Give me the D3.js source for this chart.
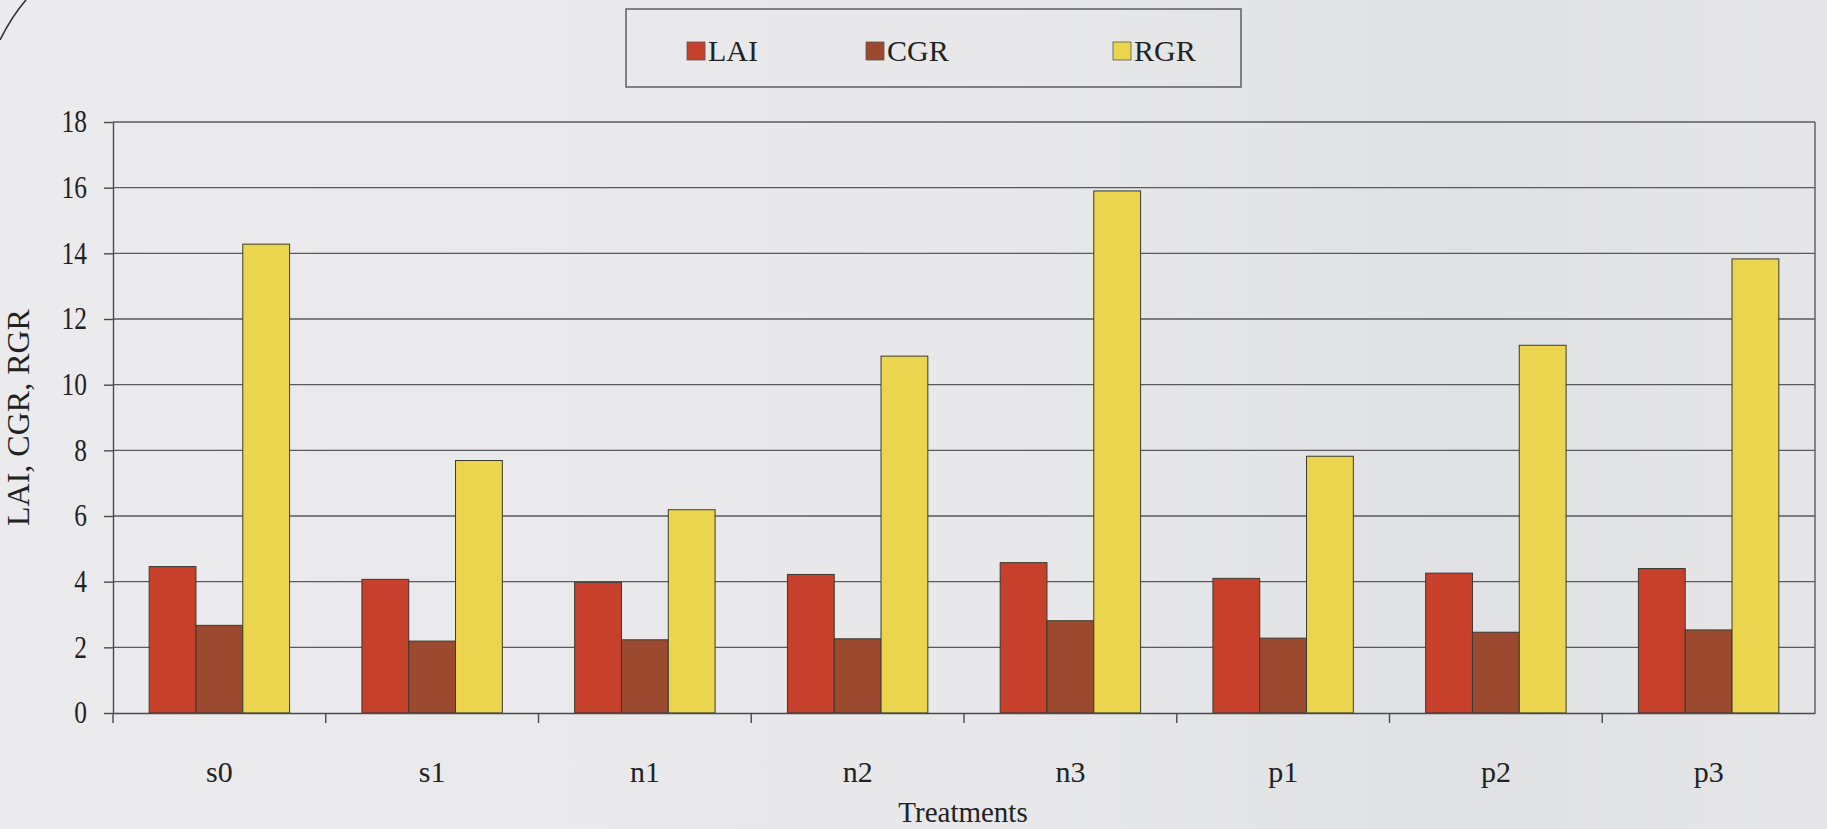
<!DOCTYPE html>
<html>
<head>
<meta charset="utf-8">
<script src="https://cdn.jsdelivr.net/npm/d3@7"></script>
<style>
  html, body { margin: 0; padding: 0; background: #e9e9eb; }
  svg { display: block; }
  text { font-family: "Liberation Serif", "Times New Roman", serif; fill: #222; }
</style>
</head>
<body>
<svg id="chart" width="1827" height="829"></svg>
<script>
// Treatments along the x axis
const categories = ["s0", "s1", "n1", "n2", "n3", "p1", "p2", "p3"];
// Series names and values per treatment
const seriesNames = ["LAI", "CGR", "RGR"];
const laiValues = [4.46, 4.07, 3.98, 4.22, 4.58, 4.10, 4.26, 4.40];
const cgrValues = [2.67, 2.19, 2.23, 2.26, 2.81, 2.28, 2.46, 2.53];
const rgrValues = [14.28, 7.69, 6.19, 10.87, 15.90, 7.82, 11.20, 13.83];
// Y axis ticks
const yTicks = [0, 2, 4, 6, 8, 10, 12, 14, 16, 18];

const seriesValues = { LAI: laiValues, CGR: cgrValues, RGR: rgrValues };
const colors = { LAI: "#c7402c", CGR: "#9b4a2f", RGR: "#ecd54e" };

const svg = d3.select("#chart");
const W = 1827, H = 829;
const plot = { left: 113, right: 1815, top: 122, bottom: 713 };

// soft paper tone, slightly darker toward the right
const defs = svg.append("defs");
const bg = defs.append("linearGradient").attr("id", "paper").attr("x1", "0").attr("x2", "1").attr("y1", "0").attr("y2", "0");
bg.append("stop").attr("offset", "0").attr("stop-color", "#ebebed");
bg.append("stop").attr("offset", "0.55").attr("stop-color", "#e8e8ea");
bg.append("stop").attr("offset", "0.8").attr("stop-color", "#e0e1e4");
bg.append("stop").attr("offset", "1").attr("stop-color", "#e6e6e8");
svg.append("rect").attr("width", W).attr("height", H).attr("fill", "url(#paper)");

// page corner curve
svg.append("path")
  .attr("d", "M26,0 Q12,16 0,40")
  .attr("fill", "none").attr("stroke", "#333").attr("stroke-width", 1.6);

const x0 = d3.scaleBand().domain(categories).range([plot.left, plot.right]).padding(0);
const bw = x0.bandwidth();
const x1 = d3.scaleBand().domain(seriesNames).range([bw * 0.17, bw * 0.83]).padding(0);
const y = d3.scaleLinear().domain([0, 18]).range([plot.bottom, plot.top]);

// gridlines
svg.append("g")
  .selectAll("line")
  .data(yTicks.filter(d => d > 0))
  .join("line")
  .attr("x1", plot.left).attr("x2", plot.right)
  .attr("y1", d => y(d)).attr("y2", d => y(d))
  .attr("stroke", "#5a5a5e").attr("stroke-width", 1.4);

// right border of the plot area
svg.append("line")
  .attr("x1", plot.right).attr("x2", plot.right)
  .attr("y1", plot.top).attr("y2", plot.bottom)
  .attr("stroke", "#5a5a5e").attr("stroke-width", 1.4);

// bars
const groups = svg.append("g")
  .selectAll("g")
  .data(categories)
  .join("g")
  .attr("transform", d => `translate(${x0(d)},0)`);

groups.selectAll("rect")
  .data((c, i) => seriesNames.map(s => ({ s, v: seriesValues[s][i] })))
  .join("rect")
  .attr("x", d => x1(d.s))
  .attr("width", x1.bandwidth())
  .attr("y", d => y(d.v))
  .attr("height", d => y(0) - y(d.v))
  .attr("fill", d => colors[d.s])
  .attr("stroke", "#3a3a30").attr("stroke-width", 1);

// y axis (narrow, tall digits)
const tickScaleX = 0.82;
const yAxis = svg.append("g")
  .attr("transform", `translate(${plot.left},0)`)
  .call(d3.axisLeft(y).tickValues(yTicks).tickSize(9).tickSizeOuter(0));
yAxis.selectAll("path, line").attr("stroke", "#4a4a4e").attr("stroke-width", 1.4);
yAxis.selectAll("text")
  .attr("x", -26 / tickScaleX)
  .attr("transform", `scale(${tickScaleX},1)`)
  .style("font-size", "31px").attr("fill", "#222")
  .style("font-family", "'Liberation Serif', serif");

// x axis
const xAxis = svg.append("g")
  .attr("transform", `translate(0,${plot.bottom})`)
  .call(d3.axisBottom(x0).tickSize(0).tickPadding(48));
xAxis.select("path").attr("stroke", "#4a4a4e").attr("stroke-width", 1.6);
xAxis.selectAll("text").style("font-size", "30px").attr("fill", "#222")
  .style("font-family", "'Liberation Serif', serif");

// category boundary ticks
svg.append("g")
  .selectAll("line")
  .data(categories)
  .join("line")
  .attr("x1", d => x0(d)).attr("x2", d => x0(d))
  .attr("y1", plot.bottom).attr("y2", plot.bottom + 10)
  .attr("stroke", "#4a4a4e").attr("stroke-width", 1.4);

// axis titles
svg.append("text")
  .attr("x", (plot.left + plot.right) / 2 - 1)
  .attr("y", 822)
  .attr("text-anchor", "middle")
  .style("font-size", "29px")
  .text("Treatments");

svg.append("text")
  .attr("transform", `translate(29,${(plot.top + plot.bottom) / 2}) rotate(-90)`)
  .attr("text-anchor", "middle")
  .style("font-size", "32px")
  .text("LAI, CGR, RGR");

// legend
svg.append("rect")
  .attr("x", 626).attr("y", 9).attr("width", 615).attr("height", 78)
  .attr("fill", "none").attr("stroke", "#555").attr("stroke-width", 1.4);

const legendX = { LAI: 687, CGR: 866, RGR: 1113 };
const legend = svg.append("g")
  .selectAll("g")
  .data(seriesNames)
  .join("g")
  .attr("transform", d => `translate(${legendX[d]},42)`);
legend.append("rect")
  .attr("width", 18).attr("height", 18)
  .attr("fill", d => colors[d])
  .attr("stroke", "#555").attr("stroke-width", 0.8);
legend.append("text")
  .attr("x", 21).attr("y", 19)
  .style("font-size", "30px")
  .text(d => d);
</script>
</body>
</html>
